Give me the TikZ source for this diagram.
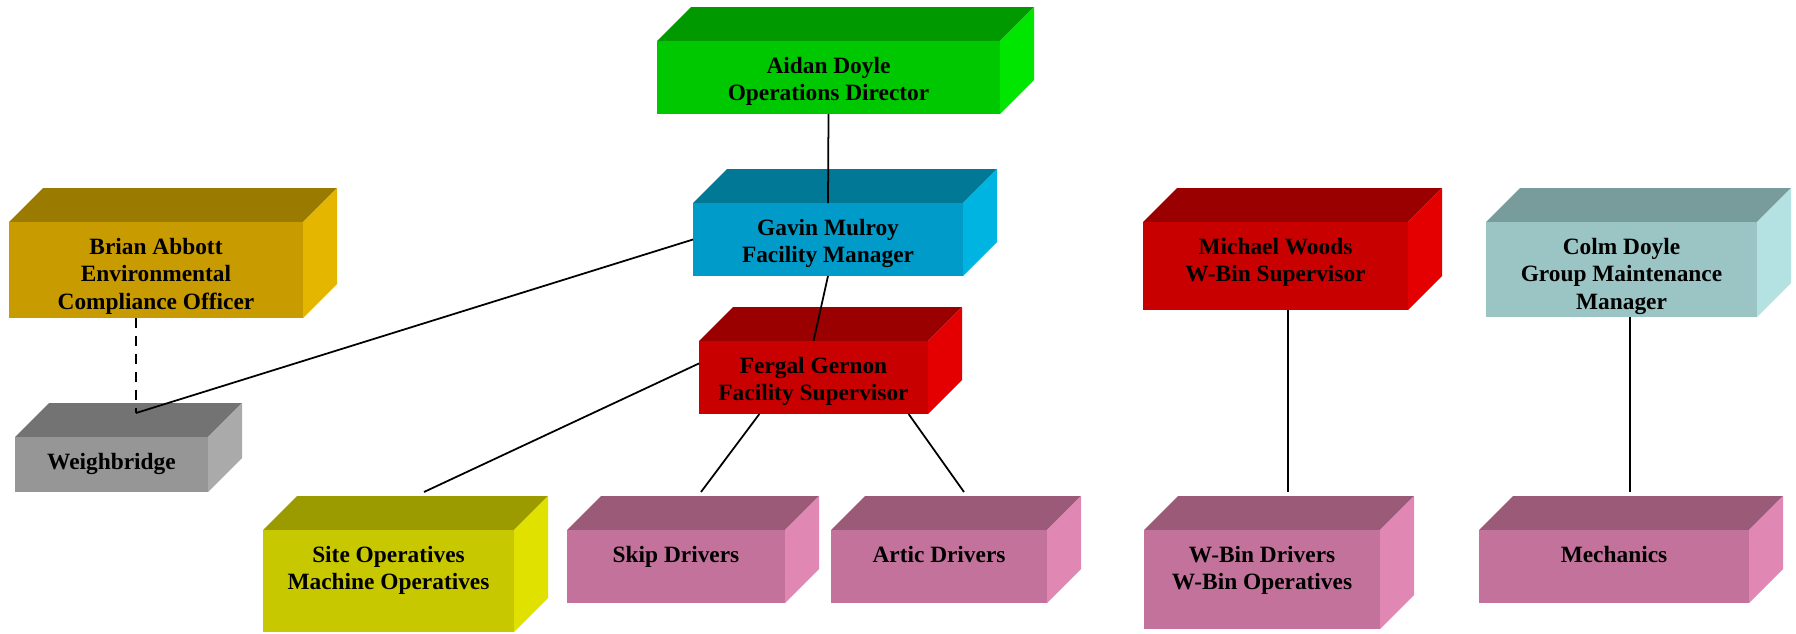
\documentclass[tikz,border=0pt]{standalone}
\usepackage{fontspec}
\setmainfont{Liberation Serif}
\usetikzlibrary{calc}

\definecolor{fgrn}{RGB}{0,200,0}     \definecolor{tgrn}{RGB}{0,153,0}     \definecolor{sgrn}{RGB}{0,230,0}
\definecolor{fgold}{RGB}{200,155,0}  \definecolor{tgold}{RGB}{155,122,0}  \definecolor{sgold}{RGB}{228,182,0}
\definecolor{fgry}{RGB}{150,150,150} \definecolor{tgry}{RGB}{115,115,115} \definecolor{sgry}{RGB}{170,170,170}
\definecolor{fcyan}{RGB}{0,155,200}  \definecolor{tcyan}{RGB}{0,120,150}  \definecolor{scyan}{RGB}{0,180,225}
\definecolor{fred}{RGB}{200,0,0}     \definecolor{tred}{RGB}{155,0,0}     \definecolor{sred}{RGB}{228,0,0}
\definecolor{fteal}{RGB}{155,196,196}\definecolor{tteal}{RGB}{120,155,155}\definecolor{steal}{RGB}{180,225,225}
\definecolor{folive}{RGB}{200,200,0} \definecolor{tolive}{RGB}{155,155,0} \definecolor{solive}{RGB}{225,225,0}
\definecolor{fpink}{RGB}{195,115,155}\definecolor{tpink}{RGB}{155,90,120} \definecolor{spink}{RGB}{225,135,180}

\begin{document}
\begin{tikzpicture}[x=0.02cm,y=-0.02cm,
    face/.style={inner sep=0,outer sep=0},
    boxtext/.style={inner sep=0,align=center,font=\fontsize{13.3}{15.6}\selectfont\bfseries},
    conn/.style={line width=1pt}]
    \useasboundingbox (0,0) rectangle (1796,633);

    % boxes: name/left/top/right/bottom/colour/text
    \foreach \nm/\l/\t/\r/\b/\col/\txt in {
      aidan/657/41/1000/114/grn/{Aidan Doyle\\Operations Director},
      brian/9/222/303/318/gold/{Brian Abbott\\Environmental\\Compliance Officer},
      weigh/15/437/208/492/gry/{Weighbridge},
      gavin/693/203/963/276/cyan/{Gavin Mulroy\\Facility Manager},
      fergal/699/341/928/414/red/{Fergal Gernon\\Facility Supervisor},
      michael/1143/222/1408/310/red/{Michael Woods\\W-Bin Supervisor},
      colm/1486/222/1757/317/teal/{Colm Doyle\\Group Maintenance\\Manager},
      site/263/530/514/632/olive/{Site Operatives\\Machine Operatives},
      skip/567/530/785/603/pink/{Skip Drivers},
      artic/831/530/1047/603/pink/{Artic Drivers},
      wbin/1144/530/1380/629/pink/{W-Bin Drivers\\W-Bin Operatives},
      mech/1479/530/1749/603/pink/{Mechanics}} {
      \fill[t\col] (\l,\t) -- (\l+34,\t-34) -- (\r+34,\t-34) -- (\r,\t) -- cycle;
      \fill[s\col] (\r,\t) -- (\r+34,\t-34) -- (\r+34,\b-34) -- (\r,\b) -- cycle;
      \node[face,fill=f\col,anchor=north west,minimum width={(\r-\l)*0.02cm},minimum height={(\b-\t)*0.02cm}] (\nm) at (\l,\t) {};
      \node[boxtext,anchor=north] (\nm-txt) at ($(\nm.north)+(0,16)$) {\txt};
    }

    \coordinate (wbjoin) at (136,413);
    \coordinate (sitetop) at (424,492);
    \coordinate (skiptop) at (701,492);
    \coordinate (artictop) at (964,492);
    \coordinate (wbintop) at (1288,492);
    \coordinate (mechtop) at (1630,492);

    \draw[conn] (aidan.south) -- (gavin.north);
    \draw[conn] (gavin.south) -- (fergal.north);
    \draw[conn] (gavin.west) -- (wbjoin);
    \draw[conn,dash pattern=on 5.7pt off 4.5pt] (brian.south -| wbjoin) -- (wbjoin);
    \draw[conn] (fergal.173) -- (sitetop);
    \draw[conn] (fergal.214) -- (skiptop);
    \draw[conn] (fergal.339) -- (artictop);
    \draw[conn] (michael.south -| wbintop) -- (wbintop);
    \draw[conn] (colm.south -| mechtop) -- (mechtop);
  \end{tikzpicture}
\end{document}
